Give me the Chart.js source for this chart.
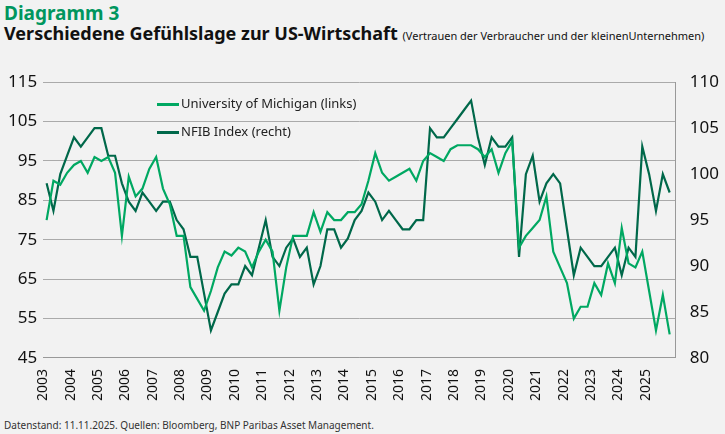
<!DOCTYPE html>
<html><head><meta charset="utf-8">
<script src="https://cdn.jsdelivr.net/npm/chart.js@4"></script>
<style>
body{margin:0;background:#f2f2f2;font-family:"Liberation Sans",Arial,sans-serif;width:725px;height:434px;overflow:hidden;position:relative}
#t1{position:absolute;left:4px;top:0px;font:bold 19px "Noto Sans";color:#00965e}
#t2{position:absolute;left:4px;top:21px;font:bold 18px "Noto Sans";color:#111}
#t2 span{font-weight:normal;font-size:11px}
#wrap{position:absolute;left:0;top:66px;width:725px;height:338px}
#foot{position:absolute;left:4px;top:418px;font:10px "Noto Sans";color:#333}
#leg{position:absolute;left:157px;top:89px;font:13px "Noto Sans";color:#222;line-height:28px}
#leg i{display:inline-block;width:22px;height:3px;vertical-align:middle;margin-right:2px}
</style></head><body>
<div id="t1">Diagramm 3</div>
<div id="t2">Verschiedene Gefühlslage zur US-Wirtschaft <span>(Vertrauen der Verbraucher und der kleinenUnternehmen)</span></div>
<div id="wrap"><canvas id="c"></canvas></div>
<div id="leg"><div><i style="background:#00a862"></i>University of Michigan (links)</div><div><i style="background:#00684a"></i>NFIB Index (recht)</div></div>
<div id="foot">Datenstand: 11.11.2025. Quellen: Bloomberg, BNP Paribas Asset Management.</div>
<script>
// Quartalswerte 2003 Q1 .. 2025 Q4
const startJahr = 2003;
const michigan = [
  80,90,89,92, 94,95,92,96, 95,96,92,76, 91,86,88,93, 96,88,84,76,
  76,63,60,57, 62,68,72,71, 73,72,68,72, 75,72,57,68, 76,76,76,82,
  77,82,80,80, 82,82,84,90, 97,92,90,91, 92,93,90,95, 97,96,95,98,
  99,99,99,98, 96,98,92,97, 100,73,76,78, 80,86,72,68, 64,55,58,58,
  64,61,69,64, 78,69,68,72, 62,52,61,51
];
const nfib = [
  99,96,100,102, 104,103,104,105, 105,102,102,99, 97,96,98,97, 96,97,97,95,
  94,91,91,87, 83,85,87,88, 88,90,89,92, 95,91,90,92, 93,91,92,88,
  90,94,94,92, 93,95,96,98, 97,95,96,95, 94,94,95,95, 105,104,104,105,
  106,107,108,104, 101,104,103,103, 104,91,100,102, 97,99,100,99, 94,89,92,91,
  90,90,91,92, 89,92,91,103, 100,96,100,98
];
const jahre = [];
for (let j = 2003; j <= 2025; j++) jahre.push(j);

const pts = arr => arr.map((v,i)=>({x: startJahr + i/4 + 0.125, y: v}));

new Chart(document.getElementById('c'), {
  type: 'line',
  data: { datasets: [
    { data: pts(michigan), yAxisID: 'y', borderColor: '#00a862', borderWidth: 2.2, pointRadius: 0, tension: 0 },
    { data: pts(nfib), yAxisID: 'y2', borderColor: '#00684a', borderWidth: 2.2, pointRadius: 0, tension: 0 }
  ]},
  options: {
    responsive: true, maintainAspectRatio: false, animation: false,
    layout: { padding: { left: 2, right: 0, top: 8, bottom: 0 } },
    plugins: { legend: { display: false }, tooltip: { enabled: false } },
    scales: {
      x: { type: 'linear', min: 2003, max: 2026.1,
        afterBuildTicks: s => { s.ticks = jahre.map(v=>({value:v})); },
        grid: { display: false },
        border: { color: '#999' },
        ticks: { color: '#111', font: { size: 14, family: 'Noto Sans' }, maxRotation: 90, minRotation: 90, autoSkip: false, callback: v => String(v) } },
      y: { position: 'left', min: 45, max: 115,
        afterBuildTicks: s => { s.ticks = [45,55,65,75,85,95,105,115].map(v=>({value:v})); },
        grid: { color: '#aaa', drawTicks: false }, border: { display: false },
        ticks: { color: '#111', padding: 6, font: { size: 17, family: 'Noto Sans' } } },
      y2: { position: 'right', min: 80, max: 110,
        afterBuildTicks: s => { s.ticks = [80,85,90,95,100,105,110].map(v=>({value:v})); },
        grid: { display: false }, border: { color: '#999' },
        ticks: { color: '#111', padding: 6, font: { size: 17, family: 'Noto Sans' } } }
    }
  }
});
</script>
</body></html>
